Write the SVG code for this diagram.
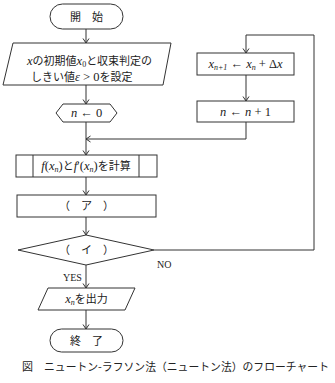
<svg xmlns="http://www.w3.org/2000/svg" width="335" height="383" viewBox="0 0 335 383">
<style>
.s{fill:#fff;stroke:#333;stroke-width:1}
.c{fill:none;stroke:#333;stroke-width:1}
.t{font-family:"Noto Sans CJK JP","Liberation Serif",sans-serif;font-size:11px;fill:#222}
.m{font-family:"Liberation Serif",serif;font-style:italic;font-size:12.5px}
.r{font-family:"Liberation Serif",serif;font-size:12.5px}
.sub{font-size:8px}
.e{font-family:"Liberation Serif",serif;font-size:10px;fill:#222}
</style>
<defs>
<marker id="a" markerUnits="userSpaceOnUse" markerWidth="10" markerHeight="10" refX="8" refY="5" orient="auto">
<path d="M3.5,2 L8,5 L3.5,8" fill="none" stroke="#333" stroke-width="1"/>
</marker>
</defs>
<g id="connectors">
<line class="c" x1="86" y1="29" x2="86" y2="43" marker-end="url(#a)"/>
<line class="c" x1="86" y1="85" x2="86" y2="104" marker-end="url(#a)"/>
<line class="c" x1="86" y1="122" x2="86" y2="155" marker-end="url(#a)"/>
<line class="c" x1="86" y1="177" x2="86" y2="195" marker-end="url(#a)"/>
<line class="c" x1="86" y1="217" x2="86" y2="235" marker-end="url(#a)"/>
<line class="c" x1="86" y1="265" x2="86" y2="288" marker-end="url(#a)"/>
<line class="c" x1="86" y1="310" x2="86" y2="329" marker-end="url(#a)"/>
<polyline class="c" points="154,250 314,250 314,35 246,35 246,53" marker-end="url(#a)"/>
<line class="c" x1="246" y1="75" x2="246" y2="101" marker-end="url(#a)"/>
<polyline class="c" points="246,122 246,139 86,139" marker-end="url(#a)"/>
<text class="e" x="63" y="281">YES</text>
<text class="e" x="157" y="268">NO</text>
</g>
<g id="start">
<rect class="s" x="50" y="4" width="73" height="25" rx="12.5"/>
<text class="t" x="86.5" y="21" text-anchor="middle">開　始</text>
</g>
<g id="input">
<polygon class="s" points="13,43 171,43 163,85 3,85"/>
<text class="t" x="27" y="65"><tspan class="m">x</tspan>の初期値<tspan class="m">x</tspan><tspan class="r sub" dy="2">0</tspan><tspan dy="-2">と収束判定の</tspan></text>
<text class="t" x="31" y="81">しきい値<tspan class="m">ε</tspan><tspan class="r"> &gt; 0</tspan>を設定</text>
</g>
<g id="init">
<polygon class="s" points="56,113 63,104 110,104 117,113 110,122 63,122"/>
<text class="t" x="86.5" y="117" text-anchor="middle"><tspan class="m">n</tspan><tspan class="r"> ← 0</tspan></text>
</g>
<g id="calc">
<rect class="s" x="16" y="155" width="141" height="22"/>
<line class="c" x1="33" y1="155" x2="33" y2="177"/>
<line class="c" x1="139" y1="155" x2="139" y2="177"/>
<text class="t" x="86" y="170" text-anchor="middle"><tspan class="m">f</tspan><tspan class="r">(</tspan><tspan class="m">x</tspan><tspan class="m sub" dy="2">n</tspan><tspan class="r" dy="-2">)</tspan>と<tspan class="m">f</tspan><tspan class="r">′(</tspan><tspan class="m">x</tspan><tspan class="m sub" dy="2">n</tspan><tspan class="r" dy="-2">)</tspan>を計算</text>
</g>
<g id="a_box">
<rect class="s" x="17" y="195" width="139" height="22"/>
<text class="t" x="86.5" y="210" text-anchor="middle">（　ア　）</text>
</g>
<g id="decision">
<polygon class="s" points="18,250 86,235 154,250 86,265"/>
<text class="t" x="86.5" y="254" text-anchor="middle">（　イ　）</text>
</g>
<g id="output">
<polygon class="s" points="48,288 135,288 125,310 38,310"/>
<text class="t" x="86.5" y="303" text-anchor="middle"><tspan class="m">x</tspan><tspan class="m sub" dy="2">n</tspan><tspan dy="-2">を出力</tspan></text>
</g>
<g id="end">
<rect class="s" x="50" y="329" width="73" height="23" rx="11.5"/>
<text class="t" x="86.5" y="345" text-anchor="middle">終　了</text>
</g>
<g id="update_x">
<rect class="s" x="197" y="53" width="97" height="22"/>
<text class="t" x="245.5" y="68" text-anchor="middle"><tspan class="m">x</tspan><tspan class="m sub" dy="2">n+1</tspan><tspan class="r" dy="-2"> ← </tspan><tspan class="m">x</tspan><tspan class="m sub" dy="2">n</tspan><tspan class="r" dy="-2"> + Δ</tspan><tspan class="m">x</tspan></text>
</g>
<g id="update_n">
<rect class="s" x="197" y="101" width="97" height="21"/>
<text class="t" x="245.5" y="116" text-anchor="middle"><tspan class="m">n</tspan><tspan class="r"> ← </tspan><tspan class="m">n</tspan><tspan class="r"> + 1</tspan></text>
</g>
<text class="t" x="22" y="371" font-size="10.5">図</text>
<text class="t" x="44" y="371" font-size="10.5" textLength="285" lengthAdjust="spacingAndGlyphs">ニュートン-ラフソン法（ニュートン法）のフローチャート</text>
</svg>
